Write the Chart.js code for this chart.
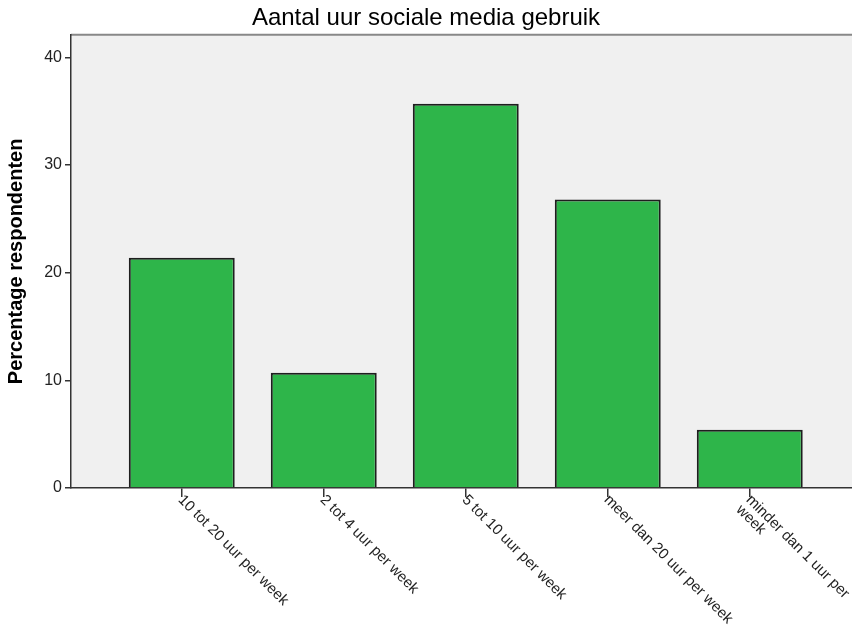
<!DOCTYPE html>
<html>
<head>
<meta charset="utf-8">
<script src="https://cdn.jsdelivr.net/npm/chart.js@4"></script>
<style>
  html, body { margin: 0; padding: 0; background: #fff; overflow: hidden; }
  canvas { display: block; }
</style>
</head>
<body>
<canvas id="chart" width="852" height="631"></canvas>
<script>
const categories = ['10 tot 20 uur per week', '2 tot 4 uur per week', '5 tot 10 uur per week', 'meer dan 20 uur per week', 'minder dan 1 uur per week'];
const tickLabels = [['10 tot 20 uur per week'], ['2 tot 4 uur per week'], ['5 tot 10 uur per week'], ['meer dan 20 uur per week'], ['minder dan 1 uur per', 'week']];
const percentages = [21.4, 10.7, 35.7, 26.8, 5.4];
const yTicks = [0, 10, 20, 30, 40];

const FONT = 'Arial, "Liberation Sans", sans-serif';

// grey plot background + top frame line
const plotBg = {
  id: 'plotBg',
  beforeDraw(chart) {
    const { ctx, chartArea: a } = chart;
    ctx.save();
    ctx.fillStyle = '#f0f0f0';
    ctx.fillRect(a.left, a.top, a.right - a.left, a.bottom - a.top);
    ctx.strokeStyle = '#888';
    ctx.lineWidth = 2;
    ctx.beginPath();
    ctx.moveTo(a.left, a.top);
    ctx.lineTo(a.right, a.top);
    ctx.stroke();
    ctx.restore();
  }
};

// x labels rotated clockwise, starting at the tick
const slantLabels = {
  id: 'slantLabels',
  afterDraw(chart) {
    const { ctx } = chart;
    const xs = chart.scales.x;
    ctx.save();
    ctx.font = '15px ' + FONT;
    ctx.fillStyle = '#222';
    ctx.textAlign = 'left';
    ctx.textBaseline = 'middle';
    tickLabels.forEach((lines, i) => {
      const px = xs.getPixelForValue(i);
      ctx.save();
      ctx.translate(px, xs.top + 11);
      ctx.rotate(Math.PI / 4);
      lines.forEach((t, j) => ctx.fillText(t, -2, j * 14));
      ctx.restore();
    });
    ctx.restore();
  }
};

new Chart(document.getElementById('chart').getContext('2d'), {
  type: 'bar',
  data: {
    labels: categories,
    datasets: [{
      label: 'Percentage respondenten',
      data: percentages.map((v, i) => ({ x: i, y: v })),
      backgroundColor: '#2eb54a',
      borderColor: '#1e1e1e',
      borderWidth: 2,
      categoryPercentage: 1,
      barPercentage: 0.746
    }]
  },
  options: {
    responsive: false,
    animation: false,
    layout: { padding: 0 },
    plugins: {
      legend: { display: false },
      tooltip: { enabled: false },
      title: {
        display: true,
        text: 'Aantal uur sociale media gebruik',
        color: '#000',
        font: { family: FONT, size: 24, weight: 'normal' },
        padding: { top: 4, bottom: 2 }
      }
    },
    scales: {
      x: {
        type: 'linear',
        min: -0.78,
        max: 4.72,
        offset: false,
        z: 1,
        afterBuildTicks: s => { s.ticks = categories.map((c, i) => ({ value: i })); },
        afterFit: s => { s.height = 143; },
        ticks: { display: false },
        grid: { offset: false, drawOnChartArea: false, drawTicks: true, tickLength: 9, color: '#333', lineWidth: 1.5 },
        border: { display: true, color: '#333', width: 1.5 }
      },
      y: {
        min: 0,
        max: 42.1,
        z: 1,
        afterBuildTicks: s => { s.ticks = yTicks.map(v => ({ value: v })); },
        afterFit: s => { s.width = 71; },
        ticks: { color: '#222', font: { family: FONT, size: 16 }, padding: 3 },
        grid: { drawOnChartArea: false, drawTicks: true, tickLength: 6, color: '#333', lineWidth: 1.5 },
        border: { display: true, color: '#333', width: 1.5 },
        title: {
          display: true,
          text: 'Percentage respondenten',
          color: '#000',
          font: { family: FONT, size: 20, weight: 'bold' },
          padding: { top: 4, bottom: 4 }
        }
      }
    }
  },
  plugins: [plotBg, slantLabels]
});
</script>
</body>
</html>
